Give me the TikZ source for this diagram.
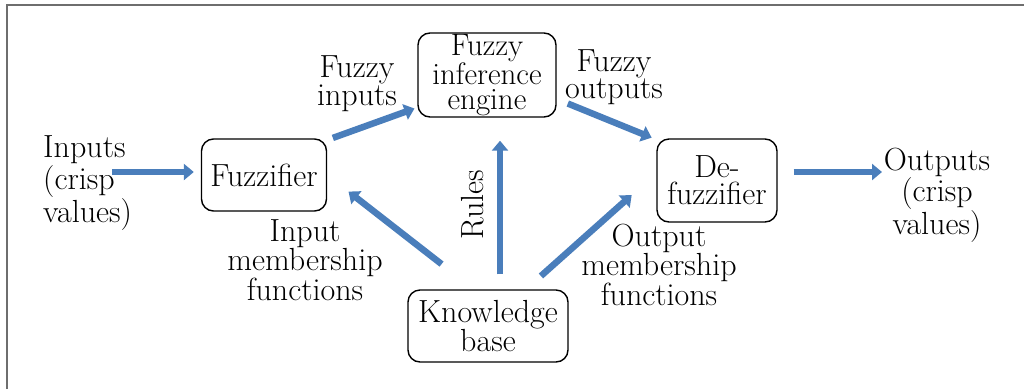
\documentclass[tikz,border=0pt]{standalone}
\usepackage{tikz}
\usetikzlibrary{arrows.meta,positioning}
\definecolor{bleufleche}{HTML}{4A7EBB}
\definecolor{griscadre}{HTML}{6E6E6E}

\begin{document}
\begin{tikzpicture}[
		x=1pt, y=-1pt,
		bloc/.style={draw, rounded corners=12pt, line width=1.4pt, align=center, inner sep=0pt, font=\fontsize{32}{27}\selectfont},
		etiquette/.style={align=center, inner sep=0pt, font=\fontsize{32}{27}\selectfont},
		fleche/.style={draw=bleufleche, line width=6.5pt, -{Triangle[length=10pt,width=16pt]}}
		]
		\useasboundingbox (0,0) rectangle (1024,389);
		
		% Le cadre
		\draw[griscadre, line width=2pt] (7,389) -- (7,5) -- (1024,5);
		
		% Les blocs
		\node[bloc, minimum width=125pt, minimum height=72pt] (fuzz) at (264,175) {Fuzzifier};
		\node[bloc, minimum width=138pt, minimum height=84pt, font=\fontsize{31}{25}\selectfont] (engine) at (487,75) {Fuzzy\\inference\\engine};
		\node[bloc, minimum width=120pt, minimum height=83pt] (defuzz) at (717,180.5) {De-\\fuzzifier};
		\node[bloc, minimum width=160pt, minimum height=72pt] (kb) at (488,326) {Knowledge\\base};
		
		% Les textes
		\node[etiquette, align=left, anchor=west] (inputs) at (43,183) {Inputs\\(crisp\\values)};
		\node[etiquette] (outputs) at (937,195) {Outputs\\(crisp\\values)};
		\node[etiquette] (fin) at (357,84) {Fuzzy\\inputs};
		\node[etiquette] (fout) at (614,77) {Fuzzy\\outputs};
		\node[etiquette, rotate=90] (rules) at (473,205) {Rules};
		\node[etiquette] (inmf) at (305,260) {Input\\membership\\functions};
		\node[etiquette] (outmf) at (659,265) {Output\\membership\\functions};
		
		\coordinate (in) at (112,172);
		\coordinate (out) at (882,172);
		
		% Les flèches
		\draw[fleche, shorten >=7pt] (in) -- (in -| fuzz.west);
		\draw[fleche, shorten <=6pt, shorten >=3pt] (fuzz.29) -- (engine.205);
		\draw[fleche, shorten <=12pt, shorten >=5pt] (engine.-19) -- (defuzz.146);
		\draw[fleche, shorten <=41pt, shorten >=27pt] (kb.111) -- (fuzz.east);
		\draw[fleche, shorten <=15pt, shorten >=23pt] ([xshift=12pt]kb.north) -- ([xshift=12pt]kb.north |- engine.south);
		\draw[fleche, shorten <=20pt, shorten >=33pt] (kb.44) -- (defuzz.173);
		\draw[fleche, shorten <=16pt] (out -| defuzz.east) -- (out);
	\end{tikzpicture}
\end{document}
